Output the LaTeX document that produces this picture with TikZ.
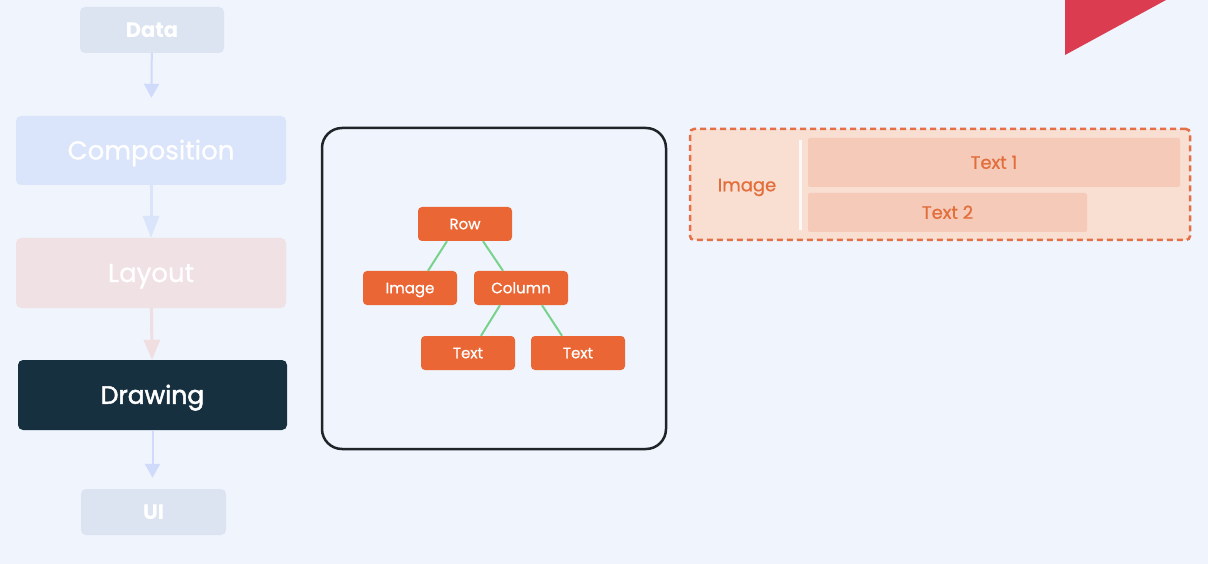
\documentclass[tikz,border=0pt]{standalone}
\usepackage{fontspec}
\setmainfont{Poppins}
\newfontfamily\medfont[FakeBold=0.8]{Poppins}
\newfontfamily\semifont[FakeBold=2]{Poppins}
\usetikzlibrary{arrows.meta,positioning}

\definecolor{bgblue}{RGB}{239,244,253}
\definecolor{fadegray}{RGB}{220,228,242}
\definecolor{fadeblue}{RGB}{218,228,250}
\definecolor{fadepink}{RGB}{240,226,228}
\definecolor{navy}{RGB}{22,48,64}
\definecolor{arrowblue}{RGB}{208,218,250}
\definecolor{arrowpink}{RGB}{240,222,224}
\definecolor{treeorange}{RGB}{234,102,52}
\definecolor{treegreen}{RGB}{120,210,140}
\definecolor{frame}{RGB}{30,36,40}
\definecolor{dashorange}{RGB}{228,112,72}
\definecolor{peach}{RGB}{249,222,210}
\definecolor{cellpeach}{RGB}{245,202,184}
\definecolor{labelorange}{RGB}{226,110,60}
\definecolor{alertred}{RGB}{220,60,80}

\tikzset{
  stage/.style={rectangle, rounded corners=5pt, text=white, inner sep=0pt,
    text height=18pt, text depth=0pt},
  flow/.style={line width=3pt, -{Triangle[width=15pt,length=14pt]}},
  leaf/.style={rectangle, rounded corners=4pt, fill=treeorange, text=white,
    minimum width=94pt, minimum height=34pt, inner sep=0pt,
    text height=10.5pt, text depth=0pt, font=\medfont\fontsize{15}{17}\selectfont},
  branch/.style={draw=treegreen, line width=2pt},
  cell/.style={rectangle, rounded corners=2pt, fill=cellpeach, text=labelorange,
    inner sep=0pt, text height=12.6pt, text depth=0pt,
    font=\medfont\fontsize{18}{20}\selectfont}
}

\begin{document}
\begin{tikzpicture}[x=1pt,y=-1pt]
  \useasboundingbox (0,0) rectangle (1208,564);
  \fill[bgblue] (0,0) rectangle (1208,564);

  %pipeline
  \node[stage, fill=fadegray, minimum width=144pt, minimum height=46pt, text height=14.7pt,
    font=\bfseries\fontsize{21}{23}\selectfont] (data) at (152,30) {Data};
  \node[stage, fill=fadeblue, minimum width=270pt, minimum height=69pt,
    font=\medfont\fontsize{26}{28}\selectfont] (comp) at (151,150.5) {Composition};
  \node[stage, fill=fadepink, minimum width=270pt, minimum height=70pt,
    font=\medfont\fontsize{26}{28}\selectfont] (layout) at (151,273) {Layout};
  \node[stage, fill=navy, minimum width=269pt, minimum height=70pt, text height=17.5pt,
    font=\semifont\fontsize{25}{27}\selectfont] (drawing) at (152.5,395) {Drawing};
  \node[stage, fill=fadegray, minimum width=145pt, minimum height=46pt, text height=14.7pt,
    font=\bfseries\fontsize{21}{23}\selectfont] (ui) at (153.5,512) {UI};

  \draw[flow, draw=arrowblue, line width=2pt, shorten >=18pt] (data) -- (comp);
  \draw[flow, draw=fadeblue, -{Triangle[width=16pt,length=22pt]}] (comp) -- (layout);
  \draw[flow, draw=arrowpink, -{Triangle[width=16pt,length=20pt]}] (layout) -- (drawing);
  \draw[flow, draw=arrowblue, line width=2pt, shorten >=11pt] (drawing.south) -- (drawing.south |- ui.north);

  %tree
  \node[draw=frame, line width=2.5pt, rounded corners=20pt, minimum width=344pt,
    minimum height=321pt] (treebox) at (494,288.5) {};
  \node[leaf] (row) at (465,224) {Row};
  \node[leaf] (image) at (410,288) {Image};
  \node[leaf] (column) at (521,288) {Column};
  \node[leaf] (texta) at (468,353) {Text};
  \node[leaf] (textb) at (578,353) {Text};

  \draw[branch] ([xshift=-18pt]row.south) -- ([xshift=18pt]image.north);
  \draw[branch] ([xshift=18pt]row.south) -- ([xshift=-18pt]column.north);
  \draw[branch] ([xshift=-21pt]column.south) -- ([xshift=13pt]texta.north);
  \draw[branch] ([xshift=21pt]column.south) -- ([xshift=-16pt]textb.north);

  %layout preview
  \node[draw=dashorange, dashed, dash pattern=on 6pt off 4pt, line width=2.5pt,
    fill=peach, rounded corners=4pt, minimum width=500pt, minimum height=111pt]
    (panel) at (940,184.5) {};
  \draw[white, line width=3pt, opacity=0.8] (800,140) -- (800,230);
  \node[text=labelorange, inner sep=0pt, text height=12.6pt, text depth=0pt,
    font=\medfont\fontsize{18}{20}\selectfont] (imglabel) at (747,185) {Image};
  \node[cell, minimum width=372pt, minimum height=49pt] (textone) at (994,162.5) {Text 1};
  \node[cell, minimum width=279pt, minimum height=39pt] (texttwo) at (947.5,212.5) {Text 2};

  \fill[alertred] (1065,0) -- (1166,0) -- (1065,55) -- cycle;
\end{tikzpicture}
\end{document}
